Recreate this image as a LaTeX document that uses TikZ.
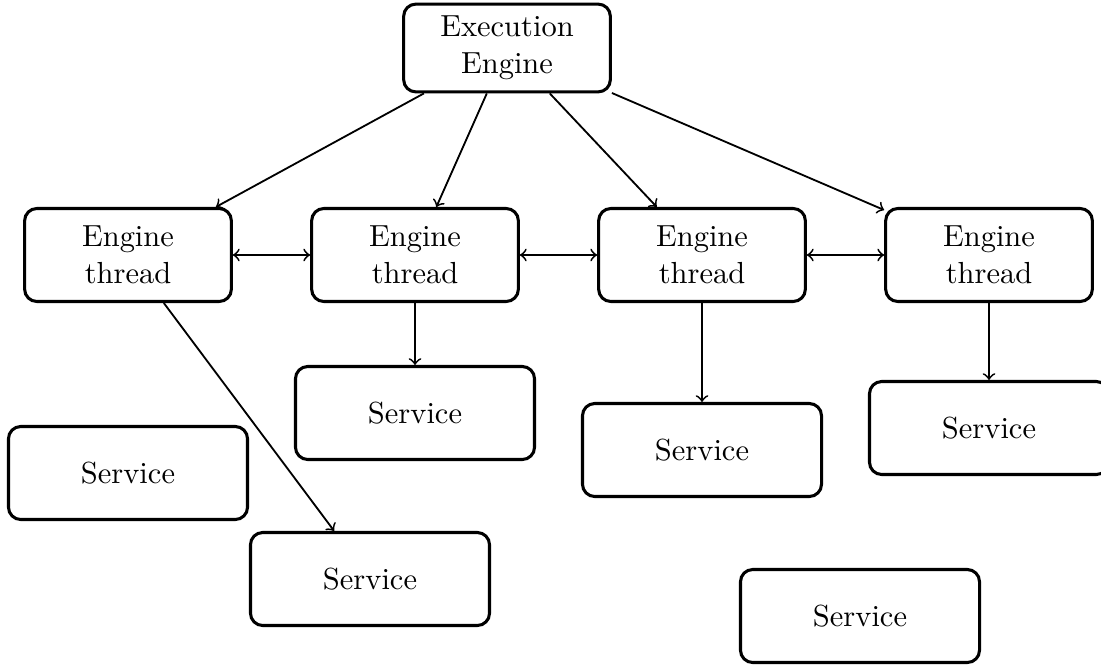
\documentclass[tikz,border=0pt]{standalone}
\usetikzlibrary{arrows}
\begin{document}
\begin{tikzpicture}[x=0.328pt,y=-0.328pt,
  box/.style={draw,line width=1pt,rounded corners=4pt,align=center,inner sep=0pt},
  thread/.style={box,minimum width=67.8pt,minimum height=30.5pt},
  svc/.style={box,minimum width=78.4pt,minimum height=30.5pt},
  conn/.style={line width=0.6pt,->},
  bidir/.style={line width=0.6pt,<->}]
\useasboundingbox (0,0) rectangle (1101,667);
\node[box,minimum width=67.8pt,minimum height=28.8pt] (ee) at (507,48) {Execution\\Engine};
\node[thread] (t1) at (128,255) {Engine\\thread};
\node[thread] (t2) at (415,255) {Engine\\thread};
\node[thread] (t3) at (702,255) {Engine\\thread};
\node[thread] (t4) at (989,255) {Engine\\thread};
\node[svc] (sa) at (415,413) {Service};
\node[svc] (sb) at (702,450) {Service};
\node[svc] (sc) at (989,428) {Service};
\node[svc] (sd) at (128,473) {Service};
\node[svc] (se) at (370,579) {Service};
\node[svc] (sf) at (860,616) {Service};
\foreach \t in {t1,t2,t3,t4} \draw[conn] (ee) -- (\t);
\draw[bidir] (t1) -- (t2);
\draw[bidir] (t2) -- (t3);
\draw[bidir] (t3) -- (t4);
\draw[conn] (t2) -- (sa);
\draw[conn] (t3) -- (sb);
\draw[conn] (t4) -- (sc);
\draw[conn] (t1) -- (se);
\end{tikzpicture}
\end{document}
